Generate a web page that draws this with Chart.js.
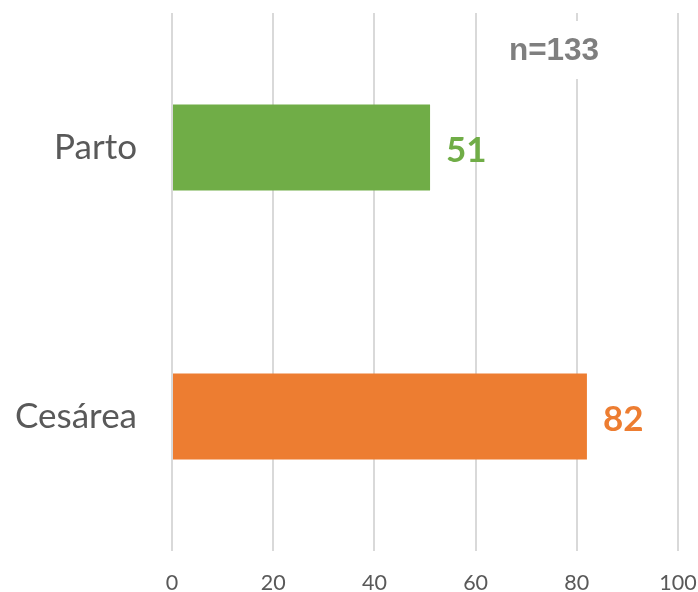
<!DOCTYPE html>
<html><head><meta charset="utf-8">
<script src="https://cdn.jsdelivr.net/npm/chart.js@4"></script>
<style>html,body{margin:0;padding:0;background:#fff}#wrap{width:698px;height:592px}</style>
</head><body><div id="wrap"><canvas id="c" width="698" height="592"></canvas></div>
<script>
const categories = ['Parto', 'Cesárea'];
const values = [51, 82];
const barColors = ['#70AD47', '#ED7D31'];
const xTicks = [0, 20, 40, 60, 80, 100];
const noteText = 'n=133';

const labelPlugin = {
  id: 'labels',
  afterDatasetsDraw(chart) {
    const ctx = chart.ctx;
    const meta = chart.getDatasetMeta(0);
    ctx.save();
    ctx.font = 'bold 35px Lato, "Open Sans", sans-serif';
    ctx.textBaseline = 'middle';
    ctx.textAlign = 'left';
    meta.data.forEach((bar, i) => {
      ctx.fillStyle = barColors[i];
      ctx.fillText(String(values[i]), bar.x + 16, bar.y + 3);
    });
    const xs = chart.scales.x;
    const cx = xs.getPixelForValue(75.5);
    const cy = chart.chartArea.top + 37;
    ctx.fillStyle = '#fff';
    ctx.fillRect(cx - 62, cy - 29, 124, 58);
    ctx.font = 'bold 31.5px "Liberation Sans", Arial, sans-serif';
    ctx.fillStyle = '#7F7F7F';
    ctx.textAlign = 'center';
    ctx.fillText(noteText, cx, cy + 1);
    ctx.restore();
  }
};

new Chart(document.getElementById('c'), {
  type: 'bar',
  data: {
    labels: categories,
    datasets: [{
      data: values,
      backgroundColor: barColors,
      borderWidth: 0,
      barPercentage: 0.32,
      categoryPercentage: 1.0
    }]
  },
  options: {
    indexAxis: 'y',
    responsive: false,
    animation: false,
    layout: { padding: { top: 13, right: 20, left: 0, bottom: 0 } },
    plugins: { legend: { display: false }, tooltip: { enabled: false } },
    scales: {
      x: {
        min: 0, max: 100,
        afterBuildTicks(s) { s.ticks = xTicks.map(v => ({ value: v })); },
        afterFit(s) { s.height = 41; s.paddingLeft = 0; s.paddingRight = 0; },
        grid: { color: '#D9D9D9', lineWidth: 2, drawTicks: false },
        border: { display: false },
        ticks: { padding: 19, color: '#595959', font: { family: 'Lato, "Open Sans", sans-serif', size: 21.5 } }
      },
      y: {
        afterFit(s) { s.width = 172; s.paddingTop = 0; s.paddingBottom = 0; },
        grid: { display: false, drawTicks: false },
        border: { display: false },
        ticks: { padding: 35, color: '#595959', font: { family: 'Lato, "Open Sans", sans-serif', size: 35 } }
      }
    }
  },
  plugins: [labelPlugin]
});
</script></body></html>
